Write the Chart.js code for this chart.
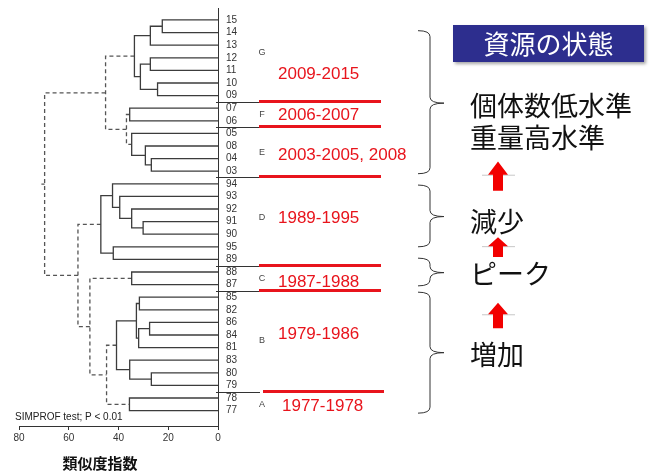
<!DOCTYPE html>
<html lang="ja">
<head>
<meta charset="utf-8">
<title>類似度指数 クラスター解析</title>
<script src="https://cdn.jsdelivr.net/npm/chart.js@4.4.1/dist/chart.umd.min.js"></script>
<style>
  html, body { margin: 0; padding: 0; background: #fff; }
  #wrap { width: 650px; height: 473px; }
</style>
</head>
<body>
<div id="wrap"><canvas id="dendro" width="650" height="473"></canvas></div>
<script>
// Leaf order, top to bottom (two-digit years)
const leafYears = ['15', '14', '13', '12', '11', '10', '09', '07', '06', '05', '08', '04', '03',
                   '94', '93', '92', '91', '90', '95', '89', '88', '87',
                   '85', '82', '86', '84', '81', '83', '80', '79', '78', '77'];

// Each merge joins two items: a leaf year, or '#k' for merge number k
const mergeLeft  = ['15', '#0', '12', '10', '#2', '#1', '07', '04', '08', '05', '#6', '#5',
                    '91', '92', '93', '94', '95', '#15', '88', '85', '86', '#20', '#19', '80', '83', '#22',
                    '78', '#25', '#18', '#17', '#11'];
const mergeRight = ['14', '13', '11', '09', '#3', '#4', '06', '03', '#7', '#8', '#9', '#10',
                    '90', '#12', '#13', '#14', '89', '#16', '87', '82', '84', '81', '#21', '79', '#23', '#24',
                    '77', '#26', '#27', '#28', '#29'];
const mergeSimilarity = [22.4, 27.2, 27.2, 24.3, 31.2, 33.6, 35.5, 26.8, 29.2, 34.7, 36.8, 45.2,
                         30.1, 34.7, 39.5, 42.4, 42.1, 47.1, 34.7, 31.6, 27.5, 31.9, 32.8, 26.8, 35.5, 40.8,
                         35.6, 44.8, 51.5, 56.3, 69.7];
// false where SIMPROF found no significant split (drawn dashed)
const mergeSignificant = [true, true, true, true, true, true, true, true, true, true, false, false,
                          true, true, true, true, true, true, true, true, true, true, true, true, true, true,
                          true, false, false, false, false];
const rootTail = 71;

const xTicks = [0, 20, 40, 60, 80];

// Groups from the top: letter, period, number of leaves
const groupLetters = ['G', 'F', 'E', 'D', 'C', 'B', 'A'];
const groupPeriods = ['2009-2015', '2006-2007', '2003-2005, 2008', '1989-1995', '1987-1988', '1979-1986', '1977-1978'];
const groupSizes = [7, 2, 4, 7, 2, 8, 2];

// Stock status for each bracket, top to bottom
const stateLines = ['個体数低水準', '重量高水準', '減少', 'ピーク', '増加'];

// ---- build the dendrogram paths ----
const nodes = [];
function resolve(ref) {
  if (ref[0] === '#') return nodes[+ref.slice(1)];
  return { y: leafYears.indexOf(ref), h: 0 };
}
const solidPts = [];
const dashedPts = [];
mergeLeft.forEach((_, k) => {
  const a = resolve(mergeLeft[k]);
  const b = resolve(mergeRight[k]);
  const h = mergeSimilarity[k];
  const pts = mergeSignificant[k] ? solidPts : dashedPts;
  // one U-shaped polyline per merge, then a gap
  pts.push({ x: a.h, y: a.y }, { x: h, y: a.y }, { x: h, y: b.y }, { x: b.h, y: b.y }, { x: NaN, y: NaN });
  nodes.push({ y: (a.y + b.y) / 2, h });
});
const root = nodes[nodes.length - 1];
dashedPts.push({ x: root.h, y: root.y }, { x: rootTail, y: root.y });

// cut positions between groups (in leaf units)
const cuts = [];
groupSizes.slice(0, -1).reduce((acc, n) => { cuts.push(acc + n - 0.5); return acc + n; }, 0);

const SANS = '"Liberation Sans", Arial, sans-serif';
const JP = '"Noto Sans CJK JP", "Noto Sans", sans-serif';
const RED = '#e8141c';

// text and bracket layout for the right-hand side (leaf units for vertical positions)
const letterY = [2.55, 7.5, 10.55, 15.7, 20.5, 25.4, 30.55];
const periodY = [4.2, 7.5, 10.65, 15.65, 20.7, 24.85, 30.6];
const braces = [[0.85, 12.2, 6.6], [13.1, 18.0, 15.6], [18.9, 21.1, 20.05], [21.6, 31.2, 26.4]];
const stateY = [6.75, 9.26, 15.95, 20.05, 26.45];
const arrows = [[11.24, 13.55], [17.25, 18.8], [22.44, 24.47]];

const annotations = {
  id: 'annotations',
  afterDraw(chart) {
    const { ctx, scales: { x, y } } = chart;
    const py = v => y.getPixelForValue(v);
    const x0 = x.getPixelForValue(0);
    ctx.save();

    // group cut lines: thin black near the axis, thick red under the labels
    cuts.forEach((c, i) => {
      const yy = Math.round(py(c)) + 0.5;
      ctx.strokeStyle = '#333';
      ctx.lineWidth = 1;
      ctx.beginPath();
      ctx.moveTo(x0 - 2, yy);
      ctx.lineTo(260, yy);
      ctx.stroke();
      ctx.strokeStyle = RED;
      ctx.lineWidth = 3;
      ctx.beginPath();
      const last = i === cuts.length - 1;
      ctx.moveTo(last ? 263 : 259, yy - 1);
      ctx.lineTo(last ? 384 : 381, yy - 1);
      ctx.stroke();
    });

    // group letters
    ctx.fillStyle = '#444';
    ctx.font = '9px ' + SANS;
    ctx.textAlign = 'center';
    ctx.textBaseline = 'middle';
    groupLetters.forEach((g, i) => ctx.fillText(g, 262, py(letterY[i])));

    // periods
    ctx.fillStyle = RED;
    ctx.font = '17px ' + SANS;
    ctx.textAlign = 'left';
    groupPeriods.forEach((p, i) => ctx.fillText(p, i === groupPeriods.length - 1 ? 282 : 278, py(periodY[i]) + 1));

    // brackets
    ctx.strokeStyle = '#333';
    ctx.lineWidth = 1;
    braces.forEach(([a, b, t]) => {
      const y0 = py(a), y1 = py(b), ym = py(t);
      ctx.beginPath();
      ctx.moveTo(418, y0);
      ctx.quadraticCurveTo(430, y0, 430, y0 + 6);
      ctx.lineTo(430, ym - 6);
      ctx.quadraticCurveTo(430, ym, 444, ym);
      ctx.quadraticCurveTo(430, ym, 430, ym + 6);
      ctx.lineTo(430, y1 - 6);
      ctx.quadraticCurveTo(430, y1, 418, y1);
      ctx.stroke();
    });

    // header box
    ctx.save();
    ctx.shadowColor = 'rgba(0,0,0,0.35)';
    ctx.shadowOffsetX = 2;
    ctx.shadowOffsetY = 2;
    ctx.shadowBlur = 3;
    ctx.fillStyle = '#2d2e8e';
    ctx.fillRect(453, 25, 191, 37);
    ctx.restore();
    ctx.fillStyle = '#fff';
    ctx.font = '26px ' + JP;
    ctx.textAlign = 'center';
    ctx.fillText('資源の状態', 548.5, 44);

    // status text
    ctx.fillStyle = '#111';
    ctx.font = '27px ' + JP;
    ctx.textAlign = 'left';
    stateLines.forEach((s, i) => ctx.fillText(s, 470, py(stateY[i]) + 1));

    // up arrows
    arrows.forEach(([a, b]) => {
      const top = py(a), bot = py(b);
      const base = top + (bot - top) * 0.45;
      const cx = 498;
      ctx.strokeStyle = '#c8c8c8';
      ctx.lineWidth = 1;
      ctx.beginPath();
      ctx.moveTo(cx - 16, base + 0.5);
      ctx.lineTo(cx + 17, base + 0.5);
      ctx.stroke();
      ctx.fillStyle = '#f20000';
      ctx.beginPath();
      ctx.moveTo(cx, top);
      ctx.lineTo(cx + 10, base);
      ctx.lineTo(cx + 5, base);
      ctx.lineTo(cx + 5, bot);
      ctx.lineTo(cx - 5, bot);
      ctx.lineTo(cx - 5, base);
      ctx.lineTo(cx - 10, base);
      ctx.closePath();
      ctx.fill();
    });

    // test note and axis title
    ctx.fillStyle = '#222';
    ctx.font = '10px ' + SANS;
    ctx.textAlign = 'left';
    ctx.fillText('SIMPROF test; P < 0.01', 15, py(31.45) + 0.5);
    ctx.fillStyle = '#111';
    ctx.font = 'bold 15px ' + JP;
    ctx.textAlign = 'center';
    ctx.fillText('類似度指数', 100, 463);

    ctx.restore();
  }
};

new Chart(document.getElementById('dendro'), {
  type: 'line',
  data: {
    datasets: [
      { data: solidPts, borderColor: '#3c3c3c', borderWidth: 1.3, pointRadius: 0, spanGaps: false, tension: 0 },
      { data: dashedPts, borderColor: '#555', borderWidth: 1.3, borderDash: [4, 3], pointRadius: 0, spanGaps: false, tension: 0 }
    ]
  },
  options: {
    responsive: false,
    animation: false,
    events: [],
    layout: { padding: { left: 19, top: 8, right: 0, bottom: 0 } },
    plugins: { legend: { display: false }, tooltip: { enabled: false } },
    scales: {
      x: {
        type: 'linear',
        reverse: true,
        min: 0,
        max: 80,
        position: 'bottom',
        afterBuildTicks: s => { s.ticks = xTicks.map(v => ({ value: v })); },
        afterFit: s => { s.height = 47; s.paddingLeft = 0; s.paddingRight = 0; },
        ticks: { font: { family: SANS, size: 10 }, color: '#333', padding: 2, maxRotation: 0 },
        grid: { drawOnChartArea: false, drawTicks: true, tickLength: 4, color: '#333' },
        border: { color: '#333', width: 1 }
      },
      y: {
        type: 'linear',
        reverse: true,
        min: -0.95,
        max: 32.22,
        position: 'right',
        afterBuildTicks: s => { s.ticks = leafYears.map((_, i) => ({ value: i })); },
        afterFit: s => { s.width = 432; s.paddingTop = 0; s.paddingBottom = 0; },
        ticks: {
          autoSkip: false,
          padding: 8,
          color: '#333',
          font: { family: SANS, size: 10 },
          callback: v => leafYears[v] ?? ''
        },
        grid: { display: false, drawTicks: false },
        border: { color: '#333', width: 1 }
      }
    }
  },
  plugins: [annotations]
});
</script>
</body>
</html>
